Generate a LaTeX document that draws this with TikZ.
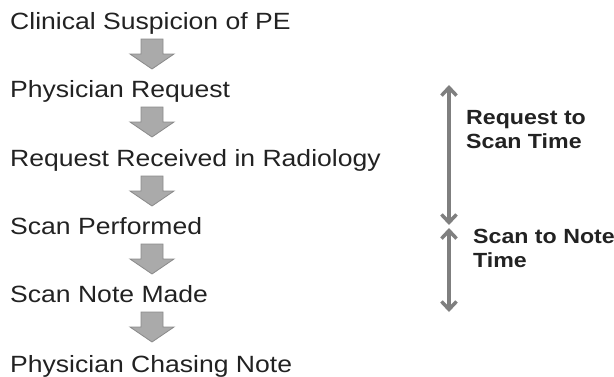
\documentclass[tikz,border=0pt]{standalone}
\usepackage{fontspec}
\setmainfont{Liberation Sans}
\usepackage{graphicx}
\usetikzlibrary{arrows.meta}
\definecolor{txt}{HTML}{222222}
\definecolor{blkfill}{HTML}{AAAAAA}
\definecolor{blkline}{HTML}{8A8A8A}
\definecolor{dimline}{HTML}{7F7F7F}
\newcommand{\wide}[1]{\scalebox{1.13}[1]{#1}}
\tikzset{
  steptext/.style={anchor=base west, inner sep=0pt, text=txt,
    font=\fontsize{23.5}{28}\selectfont},
  spanlabel/.style={anchor=base west, inner sep=0pt, text=txt, align=left,
    font=\fontsize{20.5}{24}\selectfont\bfseries},
  dimarrow/.style={draw=dimline, line width=3.5pt,
    {Straight Barb[length=8pt,width=15pt]}-{Straight Barb[length=8pt,width=15pt]}},
  pics/downarrow/.style={code={
    \draw[fill=blkfill, draw=blkline, line width=0.8pt]
      (-11,0) -- (11,0) -- (11,15) -- (22,15) -- (0,30) -- (-22,15) -- (-11,15) -- cycle;
  }}
}
\begin{document}
\begin{tikzpicture}[x=1pt,y=-1pt]
\useasboundingbox (0,0) rectangle (614,376);
\node[steptext] (t1) at (10,29) {\wide{Clinical Suspicion of PE}};
\node[steptext] (t2) at (10,97) {\wide{Physician Request}};
\node[steptext] (t3) at (10,166) {\wide{Request Received in Radiology}};
\node[steptext] (t4) at (10,234) {\wide{Scan Performed}};
\node[steptext] (t5) at (10,302) {\wide{Scan Note Made}};
\node[steptext] (t6) at (10,372) {\wide{Physician Chasing Note}};
\pic at (152,39) {downarrow};
\pic at (152,107) {downarrow};
\pic at (152,176) {downarrow};
\pic at (152,244) {downarrow};
\pic at (152,312) {downarrow};
\coordinate (a1) at (449,85);
\coordinate (a2) at (449,225);
\coordinate (b1) at (449,228);
\coordinate (b2) at (449,312);
\draw[dimarrow] (a1) -- (a2);
\draw[dimarrow] (b1) -- (b2);
\node[spanlabel] (l1) at (466,148) {\wide{Request to}\\\wide{Scan Time}};
\node[spanlabel] (l2) at (473,267) {\wide{Scan to Note}\\\wide{Time}};
\end{tikzpicture}
\end{document}
